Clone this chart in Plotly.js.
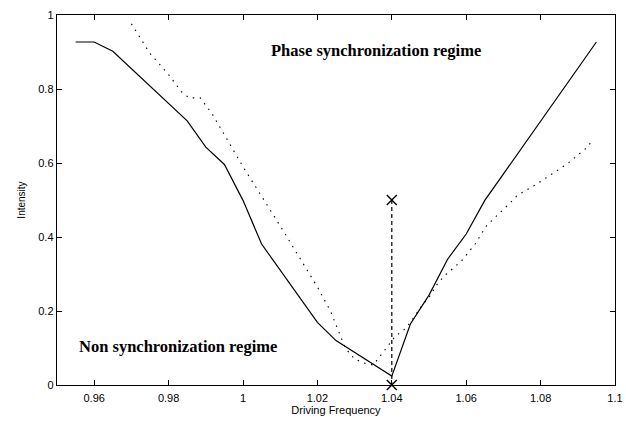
<!DOCTYPE html>
<html>
<head>
<meta charset="utf-8">
<script src="https://cdn.plot.ly/plotly-3.0.1.min.js"></script>
<style>html,body{margin:0;padding:0;background:#fff;}#chart{width:626px;height:424px;}</style>
</head>
<body>
<div id="chart"></div>
<script>
// Solid curve
var solidX = [0.955, 0.96, 0.965, 0.985, 0.99, 0.995, 1.0, 1.005, 1.02, 1.025, 1.04, 1.045, 1.05, 1.055, 1.06, 1.065, 1.095];
var solidY = [0.927, 0.927, 0.902, 0.714, 0.643, 0.596, 0.499, 0.381, 0.169, 0.12, 0.024, 0.165, 0.243, 0.34, 0.408, 0.499, 0.927];

// Dotted curve
var dotX = [0.97, 0.975, 0.98, 0.9835, 0.9855, 0.9885, 0.9917, 1.0, 1.01, 1.02, 1.0235, 1.0275, 1.030, 1.033, 1.035, 1.037, 1.039, 1.041, 1.043, 1.045, 1.0465, 1.048, 1.05, 1.0525, 1.0547, 1.0588, 1.0624, 1.0655, 1.0717, 1.0737, 1.0791, 1.0845, 1.0872, 1.0926, 1.0942];
var dotY = [0.976, 0.896, 0.839, 0.792, 0.776, 0.776, 0.733, 0.59, 0.43, 0.265, 0.2, 0.1, 0.07, 0.058, 0.054, 0.079, 0.106, 0.133, 0.146, 0.169, 0.19, 0.214, 0.237, 0.277, 0.3, 0.336, 0.381, 0.431, 0.491, 0.512, 0.544, 0.58, 0.598, 0.643, 0.666];

// Vertical dashed marker line
var markX = [1.04, 1.04];
var markY = [0.5, 0.0];

var xTicks = [0.96, 0.98, 1, 1.02, 1.04, 1.06, 1.08, 1.1];
var xTickText = ["0.96", "0.98", "1", "1.02", "1.04", "1.06", "1.08", "1.1"];
var yTicks = [0, 0.2, 0.4, 0.6, 0.8, 1];
var yTickText = ["0", "0.2", "0.4", "0.6", "0.8", "1"];

var traces = [
  {x: solidX, y: solidY, mode: 'lines', line: {color: '#000', width: 1.2}, hoverinfo: 'skip'},
  {x: dotX, y: dotY, mode: 'lines', line: {color: '#000', width: 1.1, dash: '1.5px,5.5px'}, hoverinfo: 'skip'},
  {x: markX, y: markY, mode: 'lines+markers', line: {color: '#000', width: 1.2, dash: '4px,3px'},
   marker: {symbol: 'x-thin', size: 10, color: '#000', line: {color: '#000', width: 1.4}}, cliponaxis: false, hoverinfo: 'skip'}
];

var axisFont = {family: 'Liberation Sans, Arial, sans-serif', size: 11, color: '#000'};
var layout = {
  width: 626, height: 424,
  margin: {l: 57, r: 11, t: 15, b: 39},
  paper_bgcolor: '#fff', plot_bgcolor: '#fff',
  showlegend: false,
  xaxis: {
    range: [0.95, 1.1], tickvals: xTicks, ticktext: xTickText,
    ticks: 'inside', ticklen: 5, tickwidth: 1, tickcolor: '#000',
    showline: true, linecolor: '#000', linewidth: 1.3, mirror: 'ticks',
    showgrid: false, zeroline: false, tickfont: axisFont, ticklabelstandoff: 2,
    title: {text: 'Driving Frequency', font: {family: 'Liberation Sans, Arial, sans-serif', size: 11, color: '#000'}, standoff: 3}
  },
  yaxis: {
    range: [0, 1], tickvals: yTicks, ticktext: yTickText,
    ticks: 'inside', ticklen: 5, tickwidth: 1, tickcolor: '#000',
    showline: true, linecolor: '#000', linewidth: 1.3, mirror: 'ticks',
    showgrid: false, zeroline: false, tickfont: axisFont,
    title: {text: 'Intensity', font: {family: 'Liberation Sans, Arial, sans-serif', size: 10, color: '#000'}, standoff: 10}
  },
  annotations: [
    {x: 1.0357, y: 0.905, xref: 'x', yref: 'y', text: '<b>Phase synchronization regime</b>', showarrow: false,
     font: {family: 'Liberation Serif, Times New Roman, serif', size: 16.5, color: '#000'}},
    {x: 0.9825, y: 0.1035, xref: 'x', yref: 'y', text: '<b>Non synchronization regime</b>', showarrow: false,
     font: {family: 'Liberation Serif, Times New Roman, serif', size: 16.5, color: '#000'}}
  ]
};

Plotly.newPlot('chart', traces, layout, {displayModeBar: false, staticPlot: true});
</script>
</body>
</html>
